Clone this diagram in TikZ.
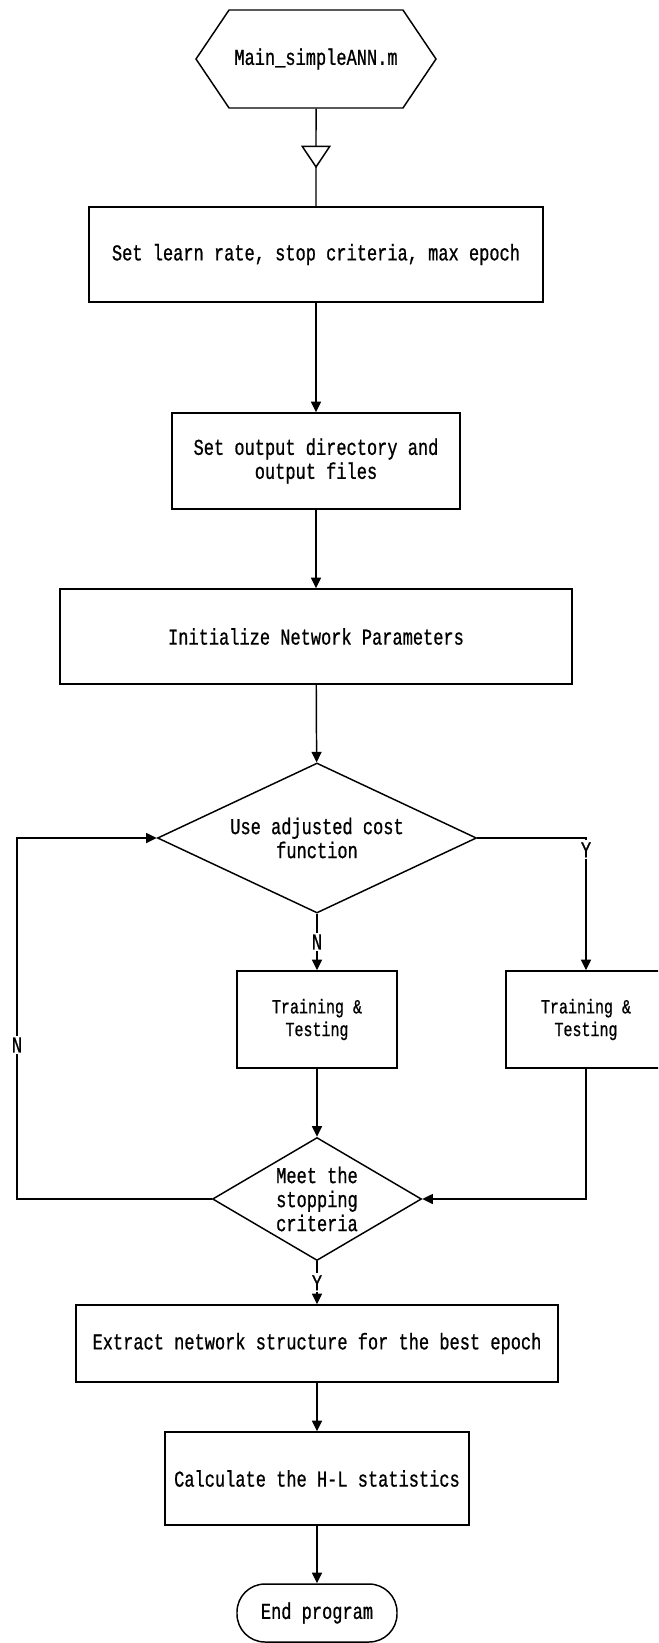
\documentclass[tikz,border=0pt]{standalone}
\usepackage{fontspec}
\newfontfamily\flowfont[FakeStretch=0.75, FakeBold=0.8]{Liberation Mono}
\usetikzlibrary{shapes.geometric,shapes.symbols,arrows.meta,decorations.markings}

\begin{document}
\begin{tikzpicture}[x=0.75pt, y=-0.75pt, line width=1.1pt, every node/.style={font=\flowfont\fontsize{17pt}{18pt}\selectfont}, >={Triangle[length=8pt, width=7.5pt]}, box/.style={draw, rectangle, align=center, inner sep=0pt}, dec/.style={draw, diamond, align=center, inner sep=0pt}, lbl/.style={fill=white, inner sep=1.5pt}, small/.style={font=\flowfont\fontsize{15pt}{17pt}\selectfont}, opentri/.style={decoration={markings, mark=at position 0.61 with {\arrow{Triangle[fill=white, length=17pt, width=22.5pt]}}}, postaction=decorate}]
	\path[use as bounding box] (0,0) rectangle (658,1643);
	\clip (0,0) rectangle (658,1643);
	\node[draw, signal, signal to=west and east, signal pointer angle=112, minimum width=180pt, minimum height=73.5pt, inner sep=0pt] (start) at (316,59) {Main\_simpleANN.m};
	\node[box, minimum width=340.5pt, minimum height=71.25pt] (set) at (316,254.5) {Set learn rate, stop criteria, max epoch};
	\node[box, minimum width=216pt, minimum height=72pt] (outdir) at (316,461) {Set output directory and\\output files};
	\node[box, minimum width=384pt, minimum height=71.25pt] (init) at (316,636.5) {Initialize Network Parameters};
	\node[dec, aspect=2.13, minimum width=239.25pt, minimum height=112.5pt] (cost) at (317,838) {Use adjusted cost\\function};
	\node[box, small, minimum width=120pt, minimum height=72.75pt] (trainN) at (317,1019.5) {Training \&\\Testing};
	\node[box, small, minimum width=120pt, minimum height=72.75pt] (trainY) at (586,1019.5) {Training \&\\Testing};
	\node[dec, aspect=1.7, minimum width=156.75pt, minimum height=92.25pt] (meet) at (317,1199) {Meet the\\stopping\\criteria};
	\node[box, minimum width=361.5pt, minimum height=57.75pt] (extract) at (317,1343.5) {Extract network structure for the best epoch};
	\node[box, minimum width=228pt, minimum height=69.75pt] (hl) at (317,1478.5) {Calculate the H-L statistics};
	\node[draw, rectangle, rounded corners=21pt, minimum width=120pt, minimum height=43.5pt] (stop) at (317,1613) {End program};
	\draw[opentri] (start) -- (set);
	\draw[->] (set) -- (outdir);
	\draw[->] (outdir) -- (init);
	\draw[->] (init) -- (cost);
	\draw[->] (cost) -- node[lbl] {N} (trainN);
	\draw[->] (cost.east) -| node[lbl, pos=0.545] {Y} (trainY.north);
	\draw[->] (trainN) -- (meet);
	\draw[->] (trainY.south) |- (meet.east);
	\coordinate (back) at (17,1045);
	\draw[->] (meet.west) -| (back) |- (cost.west);
	\node[lbl] at (back) {N};
	\draw[->] (meet) -- node[lbl] {Y} (extract);
	\draw[->] (extract) -- (hl);
	\draw[->] (hl) -- (stop);
\end{tikzpicture}
\end{document}
